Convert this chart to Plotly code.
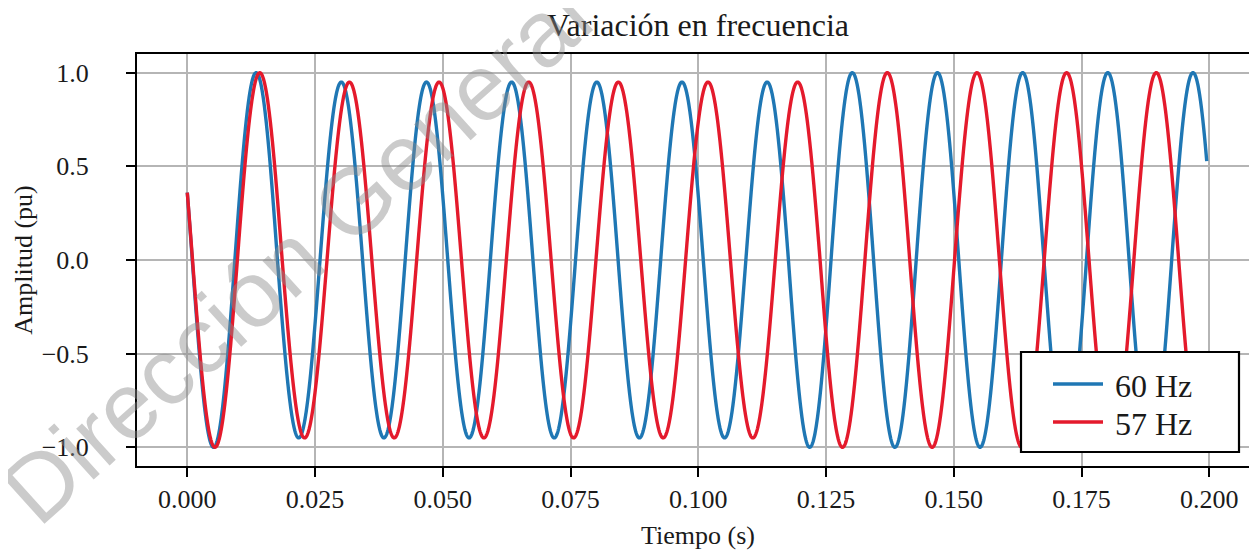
import numpy as np
import plotly.graph_objects as go

# ---- data ----
series_names = ["60 Hz", "57 Hz"]
series_freq_hz = [60.0, 57.0]
series_colors = ["#1f77b4", "#e41a2c"]
start_value = 0.36            # value of both signals at t = 0 (falling)
t_end = 0.1995                # last sample time (s)
amp_values = [1.0, 0.95, 1.0]           # amplitude (pu) in each segment
amp_breaks_60 = [0.0, 0.0176, 0.1176]   # segment start times, 60 Hz (s)
amp_breaks_57 = [0.0, 0.0186, 0.1238]   # segment start times, 57 Hz (s)
x_tick_vals = [0.0, 0.025, 0.05, 0.075, 0.1, 0.125, 0.15, 0.175, 0.2]
x_tick_text = ["0.000", "0.025", "0.050", "0.075", "0.100", "0.125", "0.150", "0.175", "0.200"]
y_tick_vals = [-1.0, -0.5, 0.0, 0.5, 1.0]
y_tick_text = ["\u22121.0", "\u22120.5", "0.0", "0.5", "1.0"]

t = np.linspace(0.0, t_end, 4000)
phi = np.arccos(start_value)

SERIF = "Liberation Serif"
TXT = "#1a1a1a"
OFF = 8                       # page body margin of the browser
W, H = 1251, 542
L, R, T, B = 129, 0, 46, 84
PW, PH = W - L - R, H - T - B


def px(xs):                   # screen x -> paper x
    return (xs - OFF - L) / PW


def py(ys):                   # screen y -> paper y
    return (OFF + H - B - ys) / PH


fig = go.Figure()
for name, f, c, brk in zip(series_names, series_freq_hz, series_colors,
                           [amp_breaks_60, amp_breaks_57]):
    idx = np.searchsorted(brk, t, side="right") - 1
    amp = np.array(amp_values)[idx]
    y = amp * np.cos(2 * np.pi * f * t + phi)
    fig.add_trace(go.Scatter(x=t, y=y, mode="lines", name=name,
                             line=dict(color=c, width=3.4, simplify=False),
                             showlegend=False))

axis_common = dict(showgrid=True, gridcolor="#b5b5b5", gridwidth=1.5,
                   showline=True, linecolor="black", linewidth=2,
                   ticks="outside", ticklen=9, tickwidth=2, tickcolor="black",
                   zeroline=False, automargin=False,
                   tickfont=dict(family=SERIF, size=26, color=TXT))

fig.update_layout(
    width=W, height=H,
    margin=dict(l=L, r=R, t=T, b=B),
    paper_bgcolor="white", plot_bgcolor="white",
    title=dict(text="Variación en frecuencia", x=0.5, xref="paper",
               y=1 - 17 / H, yref="container", yanchor="middle",
               font=dict(family=SERIF, size=32, color=TXT)),
    xaxis=dict(range=[-0.00984, 0.20973], tickvals=x_tick_vals, ticktext=x_tick_text,
               mirror=True, ticklabelstandoff=0,
               title=dict(text="Tiempo (s)", standoff=13,
                          font=dict(family=SERIF, size=26, color=TXT)),
               **axis_common),
    yaxis=dict(range=[-1.1, 1.1], tickvals=y_tick_vals, ticktext=y_tick_text,
               mirror=False, ticklabelstandoff=32,
               title=dict(text="Amplitud (pu)", standoff=2,
                          font=dict(family=SERIF, size=26, color=TXT)),
               **axis_common),
    showlegend=False,
)

# legend box (built from the series names/colours)
leg_x0, leg_x1, leg_y0, leg_y1 = 1021, 1239, 352, 452
row_y = [384, 422]
fig.add_shape(type="rect", xref="paper", yref="paper", layer="above",
              x0=px(leg_x0), x1=px(leg_x1), y0=py(leg_y1), y1=py(leg_y0),
              fillcolor="white", line=dict(color="black", width=2.2))
for name, c, ry in zip(series_names, series_colors, row_y):
    fig.add_shape(type="line", xref="paper", yref="paper", layer="above",
                  x0=px(1053), x1=px(1103), y0=py(ry), y1=py(ry),
                  line=dict(color=c, width=3.4))
    fig.add_annotation(text=name, xref="paper", yref="paper",
                       x=px(1113), y=py(ry + 2), xanchor="left", yanchor="middle",
                       showarrow=False, font=dict(family=SERIF, size=32, color=TXT))

# watermark
fig.add_annotation(text="Dirección General", xref="paper", yref="paper",
                   x=px(296), y=py(253), xanchor="center", yanchor="middle",
                   showarrow=False, textangle=-42,
                   font=dict(family="Liberation Sans", size=94,
                             color="rgba(140,140,140,0.45)"))

fig.write_html("out.html")
